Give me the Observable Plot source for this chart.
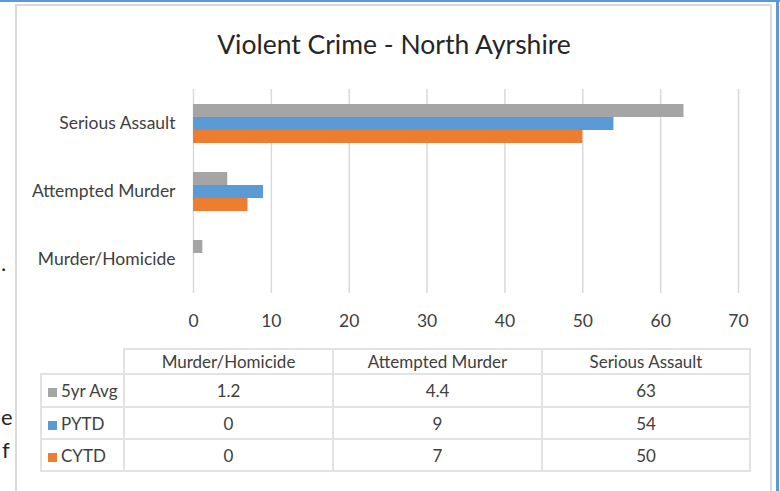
<!DOCTYPE html>
<html>
<head>
<meta charset="utf-8">
<script src="https://cdn.jsdelivr.net/npm/d3@7"></script>
<script src="https://cdn.jsdelivr.net/npm/@observablehq/plot@0.6"></script>
<style>
  html, body { margin: 0; padding: 0; background: #fff; }
  #wrap { position: relative; width: 780px; height: 491px; overflow: hidden; background: #fff; font-family: Lato, "Open Sans", sans-serif; color: #404040; }
  .abs { position: absolute; }
  #blueTop { left: 0; top: 0; width: 780px; height: 2px; background: #5b9bd5; }
  #blueRight { left: 776px; top: 0; width: 3px; height: 491px; background: #5b9bd5; }
  #frame { left: 15px; top: 4px; width: 753px; height: 520px; border: 2px solid #d9d9d9; border-bottom: none; }
  #title { left: 0; top: 28px; width: 788px; text-align: center; font-size: 26.5px; line-height: 32px; color: #262626; }
  #chart { left: 0; top: 0; }
  #tbl { left: 40px; top: 348px; border-collapse: collapse; font-size: 17px; color: #404040; table-layout: fixed; }
  #tbl td { border: 2px solid #e2e2e2; text-align: center; padding: 0; box-sizing: border-box; }
  #tbl td.lab { text-align: left; padding-left: 6px; }
  #tbl td.empty { border-top: none; border-left: none; }
  .sw { display: inline-block; width: 9px; height: 9px; margin-right: 4px; vertical-align: 0px; }
  .stray { font-size: 22px; line-height: 26px; color: #262626; font-family: Lato, sans-serif; }
</style>
</head>
<body>
<div id="wrap">
  <div class="abs stray" style="left:1px; top:250px;">.</div>
  <div class="abs stray" style="left:1px; top:404px;">e</div>
  <div class="abs stray" style="left:2px; top:437px;">f</div>
  <div id="frame" class="abs"></div>
  <div id="title" class="abs">Violent Crime - North Ayrshire</div>
  <div id="chart" class="abs"></div>
  <table id="tbl" class="abs"></table>
  <div id="blueTop" class="abs"></div>
  <div id="blueRight" class="abs"></div>
</div>
<script>
// Data
const categories = ["Murder/Homicide", "Attempted Murder", "Serious Assault"];
const seriesNames = ["5yr Avg", "PYTD", "CYTD"];
const avg5yr = [1.2, 4.4, 63];
const pytd = [0, 9, 54];
const cytd = [0, 7, 50];
const seriesColors = ["#a5a5a5", "#5b9bd5", "#ed7d31"];
const xTicks = [0, 10, 20, 30, 40, 50, 60, 70];

const seriesValues = [avg5yr, pytd, cytd];
const rows = [];
seriesNames.forEach((s, i) => categories.forEach((c, j) => rows.push({series: s, category: c, value: seriesValues[i][j]})));

const chart = Plot.plot({
  width: 780,
  height: 340,
  marginLeft: 193,
  marginRight: 42,
  marginTop: 89,
  marginBottom: 47,
  style: {fontFamily: "Lato, 'Open Sans', sans-serif", fontSize: "17.5px", color: "#404040", background: "transparent", overflow: "visible"},
  x: {domain: [0, 70], ticks: xTicks, tickSize: 0, tickPadding: 21, label: null},
  y: {domain: seriesNames, axis: null, paddingInner: 0, paddingOuter: 1.115},
  fy: {domain: categories.slice().reverse(), padding: 0, axis: "left", tickSize: 0, tickPadding: 18, label: null},
  color: {domain: seriesNames, range: seriesColors},
  marks: [
    Plot.gridX(xTicks, {stroke: "#d9d9d9", strokeOpacity: 1, strokeWidth: 1.5}),
    Plot.barX(rows, {x: "value", y: "series", fy: "category", fill: "series", insetTop: 0, insetBottom: 0})
  ]
});
document.getElementById("chart").appendChild(chart);

// Data table
const tbl = document.getElementById("tbl");
const colW = [83, 209, 209, 208];
const rowH = [25, 33, 32, 32];
let html = `<colgroup>${colW.map(w => `<col style="width:${w}px">`).join("")}</colgroup>`;
html += `<tr style="height:${rowH[0]}px"><td class="empty"></td>`;
categories.forEach(c => { html += `<td>${c}</td>`; });
html += "</tr>";
seriesNames.forEach((s, i) => {
  html += `<tr style="height:${rowH[i+1]}px"><td class="lab"><span class="sw" style="background:${seriesColors[i]}"></span>${s}</td>`;
  seriesValues[i].forEach(v => { html += `<td>${v}</td>`; });
  html += "</tr>";
});
tbl.innerHTML = html;
tbl.style.width = colW.reduce((a, b) => a + b, 0) + "px";
</script>
</body>
</html>
